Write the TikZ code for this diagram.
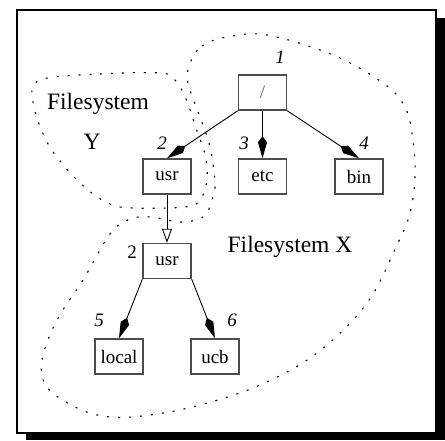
\documentclass[tikz,border=0pt]{standalone}
\usepackage{fontspec}
\setmainfont{Liberation Serif}
\usetikzlibrary{arrows.meta}
\tikzset{
  fbox/.style={draw=black!70, line width=1.4pt, minimum width=48pt, minimum height=35pt, inner sep=0pt, font=\fontsize{19}{20}\selectfont},
  num/.style={font=\fontsize{19}{20}\selectfont\itshape, inner sep=0pt},
  big/.style={font=\fontsize{23.5}{25}\selectfont, inner sep=0pt},
  edge/.style={line width=0.9pt, -{Kite[length=22pt,width=9pt,inset=6pt]}},
  oedge/.style={line width=0.9pt, -{Triangle[open,length=14pt,width=10pt]}},
  fsline/.style={line width=1.1pt, dash pattern=on 2pt off 9pt},
}
\begin{document}
\begin{tikzpicture}[x=1pt,y=-1pt]
\useasboundingbox (0,0) rectangle (445,440);
\fill[black] (26,18) rectangle (445,440);
\draw[fill=white, line width=2.2pt] (17,10) rectangle (436,433);
% filesystem outlines
\draw[fsline] plot[smooth cycle, tension=0.6] coordinates {
 (40,80) (100,74) (160,73) (175,80) (186,99) (196,128) (205,155) (207,180) (200,200) (185,207) (133,208) (110,204) (88,190) (65,167) (46,140) (33,102)};
\draw[fsline] plot[smooth cycle, tension=0.6] coordinates {
 (190,63) (202,46) (227,37) (267,35) (333,55) (383,83) (405,107) (413,140) (415,177) (410,213) (397,245) (367,303) (317,353) (260,385) (200,405) (150,415) (110,417) (77,408) (47,387) (42,360) (57,320) (83,280) (110,234) (130,219) (152,217) (180,222) (203,217) (212,200) (215,183) (210,147) (200,117) (188,83)};
% nodes
\node[fbox] (root) at (262.5,92.5) {\textcolor{black!60}{/}};
\node[fbox] (usra) at (167,176.5) {usr};
\node[fbox] (etc) at (262.5,176.5) {etc};
\node[fbox] (bin) at (359,176.5) {bin};
\node[fbox] (usrb) at (167,261) {usr};
\node[fbox] (local) at (119,356.5) {local};
\node[fbox] (ucb) at (215,356.5) {ucb};
% labels
\node[num] (n1) at (280,57) {1};
\node[num] (n2) at (162,143) {2};
\node[num] (n3) at (244,143) {3};
\node[num] (n4) at (364,143) {4};
\node[num, font=\fontsize{19}{20}\selectfont] (n2b) at (132,252) {2};
\node[num] (n5) at (99,320) {5};
\node[num] (n6) at (232,320) {6};
\node[big] (fsy) at (98,104) {Filesystem};
\node[big] (fsyy) at (92,142) {Y};
\node[big] (fsx) at (290,247) {Filesystem X};
% edges
\draw[edge] (root.south west) -- (usra.north);
\draw[edge] (root.south) -- (etc.north);
\draw[edge] (root.south east) -- (bin.north);
\draw[oedge] (usra.south) -- (usrb.north);
\draw[edge] (usrb.south west) -- (local.north);
\draw[edge] (usrb.south east) -- (ucb.north);
\end{tikzpicture}
\end{document}
